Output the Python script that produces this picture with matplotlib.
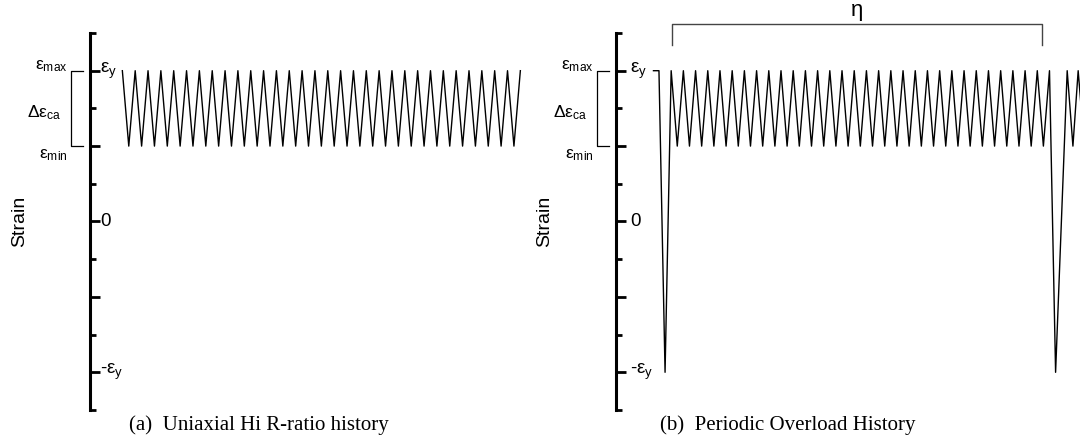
import numpy as np
import matplotlib
matplotlib.use("Agg")
import matplotlib.pyplot as plt
from matplotlib.transforms import blended_transform_factory

plt.rcParams["font.family"] = ["Liberation Sans", "DejaVu Sans"]
plt.rcParams["mathtext.fontset"] = "custom"
plt.rcParams["mathtext.rm"] = "Liberation Sans"
plt.rcParams["mathtext.it"] = "Liberation Sans:italic"

# strain levels (in units of yield strain)
EPS_Y = 1.0
EPS_MAX = 1.0
EPS_MIN = 0.5
NEG_EPS_Y = -1.0

# (a) constant amplitude history: peaks at every cycle, valleys in between
A_CYCLES = 31

# (b) periodic overload history
B_START_X = [-0.45, 0.0, 0.5]
B_START_Y = [EPS_Y, EPS_Y, NEG_EPS_Y]
B_CYCLES = (1, 32)
B_END_X = [32.5, 33.45, 33.92, 34.35, 34.85]
B_END_Y = [NEG_EPS_Y, EPS_Y, EPS_MIN, EPS_Y, EPS_MIN]
ETA_SPAN = (1.08, 31.4)

TICK_LABELS = {EPS_Y: r"$\mathrm{ε}_{\mathrm{y}}$", 0.0: "0", NEG_EPS_Y: r"-$\mathrm{ε}_{\mathrm{y}}$"}

W, H = 1080, 448
fig = plt.figure(figsize=(W / 100, H / 100), dpi=100)


def make_axes(left_px, right_px):
    ax = fig.add_axes([left_px / W, (H - 410) / H, (right_px - left_px) / W, 377 / H])
    ax.set_ylim(-1.25, 1.25)
    for s in ["top", "right", "bottom"]:
        ax.spines[s].set_visible(False)
    ax.spines["left"].set_linewidth(2.2)
    ax.set_xticks([])
    ax.set_yticks([-1, -0.5, 0, 0.5, 1])
    ax.set_yticks([-1.25, -0.75, -0.25, 0.25, 0.75, 1.25], minor=True)
    ax.tick_params(axis="y", which="major", direction="in", length=7.5, width=2.0, labelleft=False)
    ax.tick_params(axis="y", which="minor", direction="in", length=4.5, width=2.0)
    return ax


def decorate(ax, left_px, right_px, label_off, strain_x):
    wpx = right_px - left_px
    tr = blended_transform_factory(ax.transAxes, ax.transData)

    def ax_x(px):
        return (px - left_px) / wpx

    for val, lab in TICK_LABELS.items():
        ax.text(ax_x(left_px + label_off), val, lab, transform=tr, fontsize=13.5,
                ha="left", va="center")

    # bracket showing the strain amplitude range
    bx0, bx1 = ax_x(left_px - 19), ax_x(left_px - 7)
    ax.plot([bx1, bx0, bx0, bx1], [EPS_MAX, EPS_MAX, EPS_MIN, EPS_MIN], transform=tr,
            color="k", lw=0.9, clip_on=False)
    ax.text(ax_x(left_px - 22), EPS_MAX + 0.03, r"$\mathrm{ε}_{\mathrm{max}}$", transform=tr,
            fontsize=12.5, ha="right", va="center")
    ax.text(ax_x(left_px - 29), 0.72, r"$\mathrm{Δε}_{\mathrm{ca}}$", transform=tr,
            fontsize=12.5, ha="right", va="center")
    ax.text(ax_x(left_px - 22), EPS_MIN - 0.06, r"$\mathrm{ε}_{\mathrm{min}}$", transform=tr,
            fontsize=12.5, ha="right", va="center")
    ax.text(ax_x(strain_x), 0.0, "Strain", transform=tr, fontsize=14, rotation=90,
            ha="center", va="center")


# panel (a)
ax1 = make_axes(90, 540)
ax1.set_xlim(-2.52, 32.53)
xa = np.arange(0, A_CYCLES + 0.01, 0.5)
ya = np.where(np.arange(len(xa)) % 2 == 0, EPS_MAX, EPS_MIN)
ax1.plot(xa, ya, color="k", lw=1.0)
decorate(ax1, 90, 540, 10, 20)

# panel (b)
ax2 = make_axes(616, 1080)
ax2.set_xlim(-3.52, 34.5)
xm = np.arange(B_CYCLES[0], B_CYCLES[1] + 0.01, 0.5)
ym = np.where(np.arange(len(xm)) % 2 == 0, EPS_MAX, EPS_MIN)
xb = np.concatenate([B_START_X, xm, B_END_X])
yb = np.concatenate([B_START_Y, ym, B_END_Y])
ax2.plot(xb, yb, color="k", lw=1.0)
decorate(ax2, 616, 1080, 14, 545)

# eta bracket over the overload period
ax2.plot([ETA_SPAN[0], ETA_SPAN[0], ETA_SPAN[1], ETA_SPAN[1]], [1.17, 1.31, 1.31, 1.17],
         color="#444444", lw=1.0, clip_on=False)
ax2.text((ETA_SPAN[0] + ETA_SPAN[1]) / 2, 1.33, "η", fontsize=16, ha="center", va="bottom")

# captions
fig.text(259 / W, 1 - 425 / H, "(a)  Uniaxial Hi R-ratio history", family="Liberation Serif",
         fontsize=15, ha="center", va="center")
fig.text(788 / W, 1 - 425 / H, "(b)  Periodic Overload History", family="Liberation Serif",
         fontsize=15, ha="center", va="center")

fig.savefig("out.png", dpi=100)
